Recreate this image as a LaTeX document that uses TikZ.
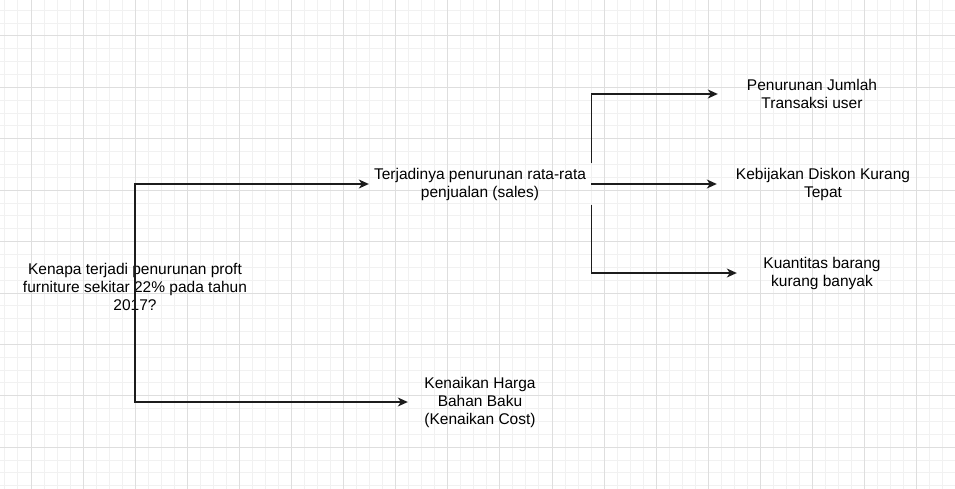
\documentclass[tikz,border=0pt]{standalone}
\usepackage{fontspec}
\setmainfont{Liberation Sans}
\usepackage{xcolor}
\usetikzlibrary{arrows.meta,positioning}

\definecolor{gridmajor}{HTML}{DEDEDE}
\definecolor{gridminor}{HTML}{F1F1F1}
\definecolor{linkcol}{HTML}{1C1C1C}

\begin{document}
\begin{tikzpicture}[x=1pt, y=-1pt,
			minor/.style={draw=gridminor, line width=1pt},
			major/.style={draw=gridmajor, line width=1pt},
			txt/.style={align=center, inner xsep=5pt, inner ysep=2pt, minimum height=41pt,
				font=\fontsize{15.5}{18}\selectfont, text=black},
			link/.style={draw=linkcol, line width=1.3pt,
				-{Stealth[length=10pt, width=9pt, inset=3pt]}}]
\useasboundingbox (0,0) rectangle (955,489);
\fill[white] (0,0) rectangle (955,489);

% grid
\foreach \i in {-3,...,72} \draw[minor] ({31+13.025*\i},0) -- ({31+13.025*\i},489);
\foreach \i in {-3,...,36} \draw[minor] (0,{36+12.85*\i}) -- (955,{36+12.85*\i});
\foreach \i in {-1,...,18} \draw[major] ({31+52.1*\i},0) -- ({31+52.1*\i},489);
\foreach \i in {-1,...,9} \draw[major] (0,{36+51.4*\i}) -- (955,{36+51.4*\i});

% nodes
\node[txt] (main) at (135,287) {Kenapa terjadi penurunan proft\\furniture sekitar 22\% pada tahun\\2017?};
\node[txt] (sales) at (480,184) {Terjadinya penurunan rata-rata\\penjualan (sales)};
\node[txt, minimum width=144pt] (cost) at (480,402) {Kenaikan Harga\\Bahan Baku\\(Kenaikan Cost)};
\node[txt, minimum width=188pt] (trans) at (812,94) {Penurunan Jumlah\\Transaksi user};
\node[txt, minimum width=212pt] (diskon) at (823,184) {Kebijakan Diskon Kurang\\Tepat};
\node[txt, minimum width=170pt] (qty) at (822,273) {Kuantitas barang\\kurang banyak};

% connectors
\draw[link] (main.center) |- (sales.west);
\draw[link] (main.center) |- (cost.west);
\draw[link] (sales.north east) |- (trans.west);
\draw[link] (sales.east) -- (diskon.west);
\draw[link] (sales.south east) |- (qty.west);

\end{tikzpicture}
\end{document}
